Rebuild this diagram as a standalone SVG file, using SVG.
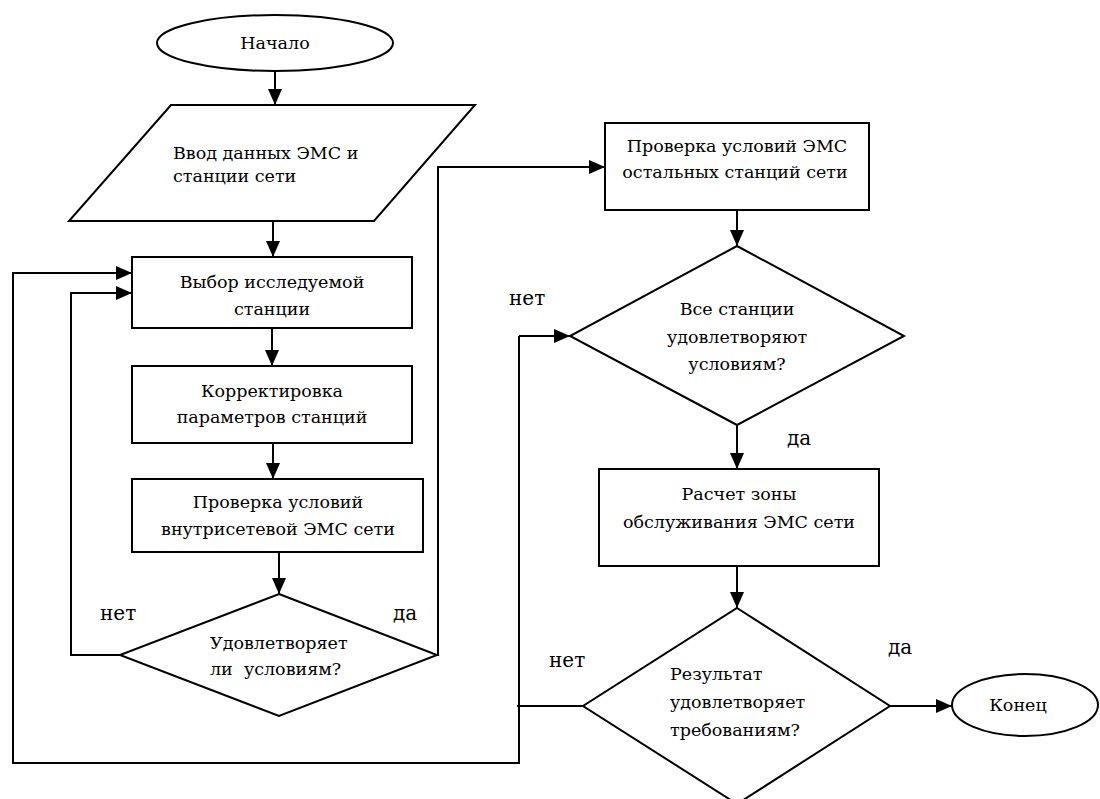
<svg xmlns="http://www.w3.org/2000/svg" width="1100" height="799" viewBox="0 0 1100 799">
<style>
.s{fill:#fff;stroke:#000;stroke-width:2}
.t{font-family:'DejaVu Serif','Liberation Serif',serif;font-size:17.5px;fill:#000}
.c{text-anchor:middle}
.l{font-family:'DejaVu Serif','Liberation Serif',serif;font-size:20px;fill:#000}
.e{fill:none;stroke:#000;stroke-width:2}
</style>
<defs>
<marker id="a" markerUnits="userSpaceOnUse" markerWidth="16" markerHeight="14" refX="16" refY="7" orient="auto">
<path d="M0,0 L16,7 L0,14 z" fill="#000"/>
</marker>
</defs>
<rect width="1100" height="799" fill="#fff"/>
<g id="connectors">
<path class="e" d="M275,71 V105" marker-end="url(#a)"/>
<path class="e" d="M273,221 V257" marker-end="url(#a)"/>
<path class="e" d="M272,328 V366" marker-end="url(#a)"/>
<path class="e" d="M273,443 V479" marker-end="url(#a)"/>
<path class="e" d="M279,552 V594" marker-end="url(#a)"/>
<path class="e" d="M120,655 H71 V293 H132" marker-end="url(#a)"/>
<path class="e" d="M437,655 H438 V167 H605" marker-end="url(#a)"/>
<path class="e" d="M583,706 H517"/>
<path class="e" d="M519,336 V763 H13 V273 H132" marker-end="url(#a)"/>
<path class="e" d="M519,336 H570" marker-end="url(#a)"/>
<path class="e" d="M737,210 V246" marker-end="url(#a)"/>
<path class="e" d="M737,425 V469" marker-end="url(#a)"/>
<path class="e" d="M737,566 V608" marker-end="url(#a)"/>
<path class="e" d="M890,706 H952" marker-end="url(#a)"/>
</g>
<g id="start">
<ellipse class="s" cx="275" cy="43" rx="118" ry="28"/>
<text class="t c" x="275" y="49">Начало</text>
</g>
<g id="input">
<polygon class="s" points="171,105 475,105 374,221 69,221"/>
<text class="t" x="173" y="159">Ввод данных ЭМС и</text>
<text class="t" x="173" y="182">станции сети</text>
</g>
<g id="select">
<rect class="s" x="132" y="257" width="280" height="71"/>
<text class="t c" x="272" y="288">Выбор исследуемой</text>
<text class="t c" x="272" y="315">станции</text>
</g>
<g id="correct">
<rect class="s" x="132" y="366" width="280" height="77"/>
<text class="t c" x="272" y="397">Корректировка</text>
<text class="t c" x="272" y="423">параметров станций</text>
</g>
<g id="check-inner">
<rect class="s" x="132" y="479" width="291" height="73"/>
<text class="t c" x="278" y="508">Проверка условий</text>
<text class="t c" x="278" y="535">внутрисетевой ЭМС сети</text>
</g>
<g id="decision1">
<polygon class="s" points="279,594 437,655 279,716 120,655"/>
<text class="t" x="210" y="649">Удовлетворяет</text>
<text class="t" x="210" y="675" xml:space="preserve">ли  условиям?</text>
<text class="l" x="100" y="620">нет</text>
<text class="l" x="393" y="620">да</text>
</g>
<g id="check-other">
<rect class="s" x="605" y="123" width="264" height="87"/>
<text class="t c" x="737" y="152">Проверка условий ЭМС</text>
<text class="t c" x="735" y="178">остальных станций сети</text>
</g>
<g id="decision2">
<polygon class="s" points="737,246 904,336 737,425 570,336"/>
<text class="t c" x="737" y="315">Все станции</text>
<text class="t c" x="737" y="343">удовлетворяют</text>
<text class="t c" x="737" y="370">условиям?</text>
<text class="l" x="509" y="305">нет</text>
<text class="l" x="787" y="445">да</text>
</g>
<g id="zone">
<rect class="s" x="599" y="469" width="280" height="97"/>
<text class="t c" x="739" y="500">Расчет зоны</text>
<text class="t c" x="739" y="528">обслуживания ЭМС сети</text>
</g>
<g id="decision3">
<polygon class="s" points="737,608 890,706 737,804 583,706"/>
<text class="t" x="670" y="680">Результат</text>
<text class="t" x="670" y="708">удовлетворяет</text>
<text class="t" x="670" y="736">требованиям?</text>
<text class="l" x="549" y="667">нет</text>
<text class="l" x="888" y="654">да</text>
</g>
<g id="end">
<ellipse class="s" cx="1025" cy="705" rx="73" ry="31"/>
<text class="t c" x="1018" y="711">Конец</text>
</g>
</svg>
